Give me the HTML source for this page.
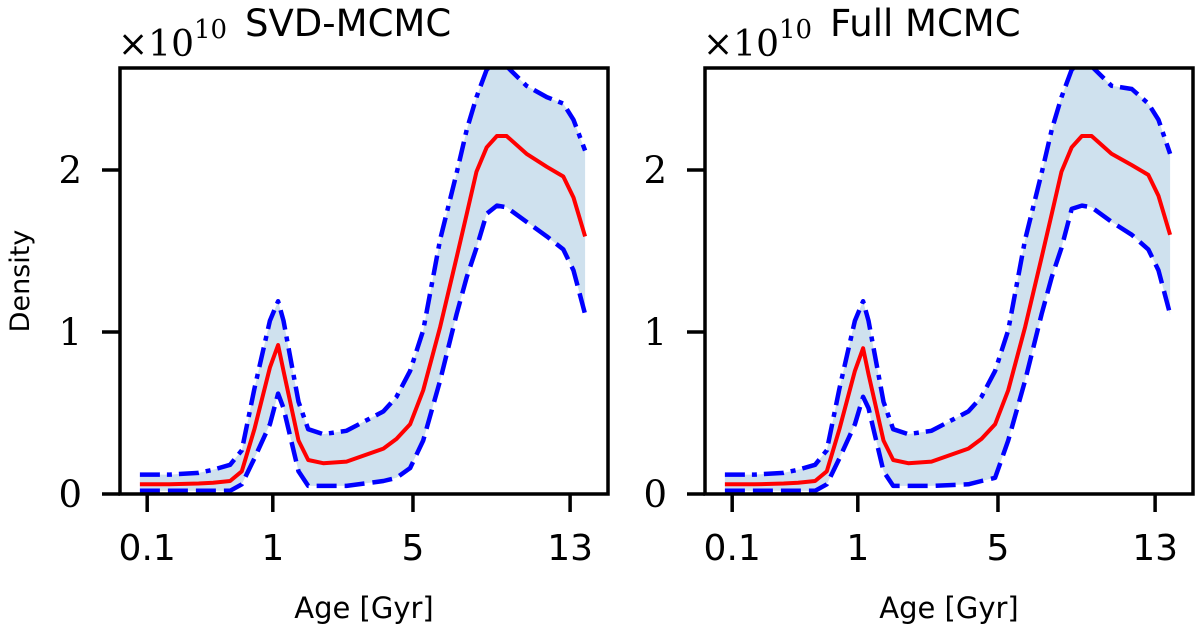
<!DOCTYPE html>
<html><head><meta charset="utf-8">
<style>
html,body{margin:0;padding:0;background:#fff;}
svg{display:block;}
.sans{font-family:"DejaVu Sans","Liberation Sans",sans-serif;}
.serif{font-family:"DejaVu Serif","Liberation Serif",serif;}
</style></head>
<body>
<svg id="chart" width="1200" height="633" viewBox="0 0 1200 633" xmlns="http://www.w3.org/2000/svg"></svg>
<script>
// x values: bin index (0..100 across plot box)
const binIndex = [3.9,10,16,19,22.5,24.9,27.5,30.7,32.4,33.5,36.6,38.6,41.7,46.5,54.1,56.8,59.6,62.3,65.8,69.2,71.3,73.3,75.4,77.5,79.5,83.6,87.8,91.2,93.3,95.7];
const medianSVD = [0.06,0.06,0.065,0.07,0.08,0.14,0.40,0.78,0.92,0.76,0.33,0.21,0.19,0.20,0.28,0.34,0.43,0.64,1.03,1.46,1.73,1.99,2.14,2.21,2.21,2.10,2.02,1.96,1.83,1.59];
const upperSVD = [0.12,0.12,0.13,0.15,0.18,0.27,0.65,1.07,1.19,1.07,0.57,0.40,0.37,0.39,0.51,0.60,0.76,1.01,1.57,1.98,2.25,2.45,2.62,2.67,2.64,2.52,2.45,2.41,2.31,2.12];
const lowerSVD = [0.02,0.02,0.02,0.02,0.02,0.06,0.22,0.43,0.62,0.53,0.14,0.05,0.05,0.05,0.08,0.10,0.16,0.33,0.70,1.11,1.34,1.52,1.73,1.78,1.77,1.68,1.59,1.51,1.38,1.11];
const medianFull = [0.06,0.06,0.065,0.07,0.08,0.14,0.40,0.76,0.90,0.74,0.33,0.21,0.19,0.20,0.28,0.34,0.43,0.64,1.03,1.46,1.73,1.99,2.14,2.21,2.21,2.10,2.03,1.97,1.84,1.60];
const upperFull = [0.12,0.12,0.13,0.15,0.18,0.27,0.65,1.07,1.19,1.07,0.57,0.40,0.37,0.39,0.51,0.60,0.76,1.01,1.57,1.98,2.25,2.45,2.62,2.67,2.64,2.52,2.50,2.41,2.31,2.10];
const lowerFull = [0.02,0.02,0.02,0.02,0.02,0.06,0.22,0.43,0.60,0.53,0.14,0.05,0.05,0.05,0.06,0.08,0.10,0.33,0.70,1.11,1.34,1.52,1.76,1.78,1.77,1.68,1.60,1.51,1.38,1.11];
const xTickLabels = ["0.1","1","5","13"];
const xTickIndex = [5.4,31.3,60.2,92.6];
const yTickValues = [0,1,2];
const panelTitles = ["SVD-MCMC","Full MCMC"];

const svg = document.getElementById('chart');
const NS = 'http://www.w3.org/2000/svg';
function mk(tag, attrs, parent){
  const e = document.createElementNS(NS, tag);
  for (const k in attrs) e.setAttribute(k, attrs[k]);
  (parent||svg).appendChild(e);
  return e;
}
const TOP=68, BOTTOM=494, W=488;
function yScale(v){ return BOTTOM - v*162; }
function makeX(left){ return i => left + 1 + i*4.85; }

function path(xs, ys, xf){
  return xs.map((x,i)=>(i?'L':'M')+xf(x).toFixed(1)+','+yScale(ys[i]).toFixed(1)).join(' ');
}

function drawPanel(left, title, med, up, lo, showYLabel, key){
  const xf = makeX(left);
  const g = mk('g', {});
  
  
  const clipId = 'clip-'+key;
  const cp = mk('clipPath', {id:clipId}, g);
  mk('rect', {x:left, y:TOP, width:W, height:BOTTOM-TOP}, cp);
  const plot = mk('g', {'clip-path':'url(#'+clipId+')'}, g);
  let d = path(binIndex, up, xf);
  for (let i=binIndex.length-1;i>=0;i--) d += ' L'+xf(binIndex[i]).toFixed(1)+','+yScale(lo[i]).toFixed(1);
  const band = mk('path', {d:d+' Z', fill:'#cfe1ee', stroke:'none'}, plot);
  
  
  const upl = mk('path', {d:path(binIndex, up, xf), fill:'none', stroke:'#0000ff', 'stroke-width':4.5, 'stroke-dasharray':'20 7 5 7', 'stroke-linejoin':'round'}, plot);
  
  
  const lol = mk('path', {d:path(binIndex, lo, xf), fill:'none', stroke:'#0000ff', 'stroke-width':4.5, 'stroke-dasharray':'20 8', 'stroke-linejoin':'round'}, plot);
  
  
  const ml = mk('path', {d:path(binIndex, med, xf), fill:'none', stroke:'#ff0000', 'stroke-width':4, 'stroke-linejoin':'round'}, plot);
  
  
  const fr = mk('rect', {x:left, y:TOP, width:W, height:BOTTOM-TOP, fill:'none', stroke:'#000', 'stroke-width':3.5}, g);
  
  
  yTickValues.forEach(v=>{
    const y = yScale(v);
    mk('line', {x1:left-18, x2:left, y1:y, y2:y, stroke:'#000', 'stroke-width':3.5}, g);
    const t = mk('text', {x:left-38, y:y+13, 'text-anchor':'end', 'font-size':37, class:'serif'}, g);
    t.textContent = v;
    
    
  });
  xTickIndex.forEach((ix,i)=>{
    const x = xf(ix);
    mk('line', {x1:x, x2:x, y1:BOTTOM, y2:BOTTOM+18, stroke:'#000', 'stroke-width':3.5}, g);
    const t = mk('text', {x:x, y:BOTTOM+66, 'text-anchor':'middle', 'font-size':36, class:'sans'}, g);
    t.textContent = xTickLabels[i];
    
    
  });
  const xl = mk('text', {x:left+W/2, y:618, 'text-anchor':'middle', 'font-size':29, class:'sans'}, g);
  xl.textContent = 'Age [Gyr]';
  
  
  const off = mk('text', {x:left-2, y:56, 'font-size':36, class:'serif'}, g);
  off.innerHTML = '×10<tspan dy="-18" font-size="26">10</tspan>';
  
  
  const tt = mk('text', {x:left+125, y:36, 'font-size':37, class:'sans'}, g);
  tt.textContent = title;
  
  
  if (showYLabel){
    const yl = mk('text', {x:0, y:0, 'text-anchor':'middle', 'font-size':27, class:'sans', transform:'translate(29,281) rotate(-90)'}, g);
    yl.textContent = 'Density';
    
    
  }
}
drawPanel(120, panelTitles[0], medianSVD, upperSVD, lowerSVD, true, 'svd-mcmc');
drawPanel(705, panelTitles[1], medianFull, upperFull, lowerFull, false, 'full-mcmc');
</script>
</body></html>
